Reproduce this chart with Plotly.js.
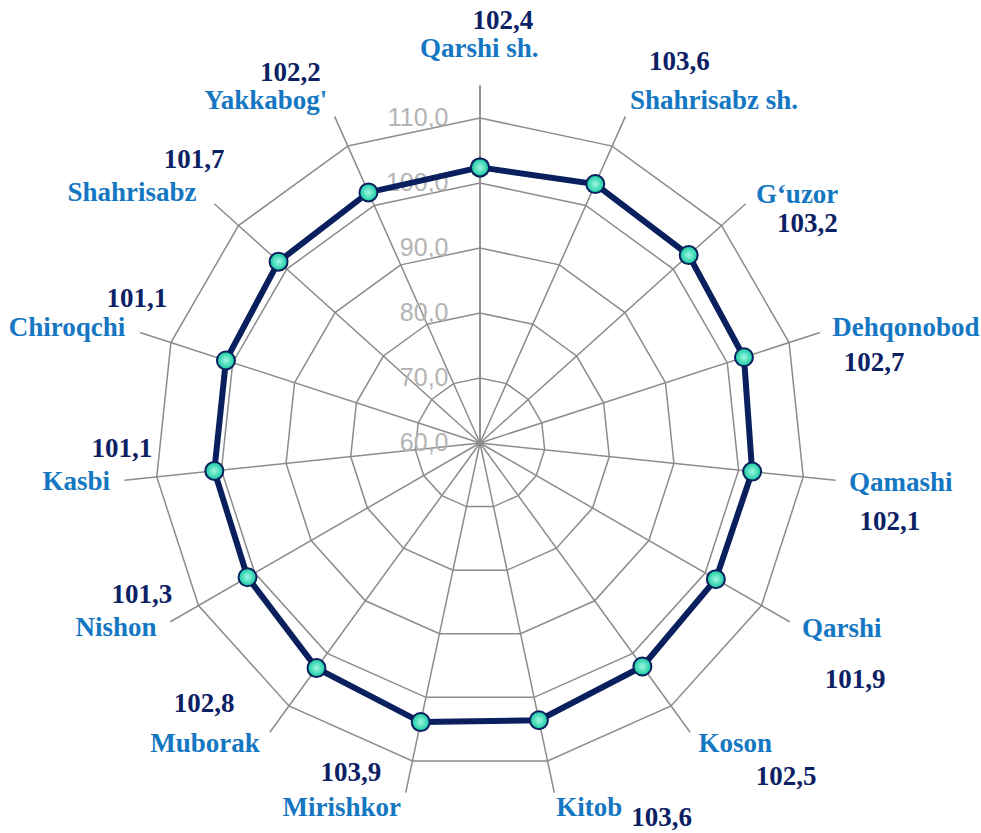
<!DOCTYPE html>
<html>
<head>
<meta charset="utf-8">
<script src="https://cdn.plot.ly/plotly-3.0.1.min.js"></script>
<style>html,body{margin:0;padding:0;background:#fff;}#chart{width:981px;height:833px;}</style>
</head>
<body>
<div id="chart"></div>
<script>
// ---- data ----
const categories = ["Qarshi sh.", "Shahrisabz sh.", "G‘uzor", "Dehqonobod", "Qamashi", "Qarshi", "Koson", "Kitob", "Mirishkor", "Muborak", "Nishon", "Kasbi", "Chiroqchi", "Shahrisabz", "Yakkabog'"];
const values = [102.4, 103.6, 103.2, 102.7, 102.1, 101.9, 102.5, 103.6, 103.9, 102.8, 101.3, 101.1, 101.1, 101.7, 102.2];
const radialTicks = [60, 70, 80, 90, 100, 110];

// ---- label placement (radius on the value scale, angular offset from the spoke in degrees) ----
const nameR      = [120.7, 123.9, 122.0, 127.9, 125.0, 122.5, 120.6, 118.5, 119.9, 122.6, 122.8, 122.4, 126.0, 126.0, 122.2];
const nameDTheta = [-0.1, 10.3, 3.9, 2.8, -0.7, -2.9, -4.4, -4.7, 8.8, 6.5, 3.1, 0.6, -2.3, -6.2, -8.0];
const valueR      = [125.2, 126.2, 120.7, 121.9, 124.2, 128.2, 129.6, 124.0, 114.4, 118.3, 117.0, 115.1, 117.3, 122.0, 124.0];
const valueDTheta = [3.1, 3.6, 8.1, 6.4, 4.8, 2.2, -6.6, -13.9, 9.4, 10.7, 5.9, 5.2, 4.9, 2.8, -3.1];

// ---- geometry / style ----
const W = 981, H = 833;
const CX = 480, CY = 443, RADIUS = 357.5;
const R_MIN = 60, R_MAX = 115;
const PX = RADIUS / (R_MAX - R_MIN);       // pixels per value unit
const TEXT_DROP = 2 / PX;                  // small vertical nudge for text baseline

const BLUE = '#1577c2';
const NAVY = '#0c2164';
const GRID = '#8c8c8c';
const LABEL_FONT = 'Liberation Serif, Times New Roman, serif';
const fmt = v => v.toFixed(1).replace('.', ',');
const step = 360 / categories.length;
const toXY = (r, deg) => {
  const a = deg * Math.PI / 180, d = r - R_MIN;
  return [d * Math.sin(a), d * Math.cos(a) - TEXT_DROP];
};

const mainTrace = {
  type: 'scatterpolar',
  r: values.concat([values[0]]),
  theta: categories.concat([categories[0]]),
  mode: 'lines+markers',
  line: {color: '#0a1f5e', width: 6},
  marker: {
    size: 18,
    color: '#12c9a0',
    gradient: {type: 'radial', color: '#a0f8e2'},
    line: {color: '#0a1f5e', width: 2}
  },
  hoverinfo: 'skip'
};

const namePts = categories.map((c, i) => toXY(nameR[i], i * step + nameDTheta[i]));
const valuePts = values.map((v, i) => toXY(valueR[i], i * step + valueDTheta[i]));

const nameTrace = {
  type: 'scatter', xaxis: 'x', yaxis: 'y',
  x: namePts.map(p => p[0]), y: namePts.map(p => p[1]),
  mode: 'text', text: categories, textposition: 'middle center',
  textfont: {family: LABEL_FONT, size: 27, color: BLUE, weight: 'bold'},
  cliponaxis: false, hoverinfo: 'skip'
};
const valueTrace = {
  type: 'scatter', xaxis: 'x', yaxis: 'y',
  x: valuePts.map(p => p[0]), y: valuePts.map(p => p[1]),
  mode: 'text', text: values.map(fmt), textposition: 'middle center',
  textfont: {family: LABEL_FONT, size: 27, color: NAVY, weight: 'bold'},
  cliponaxis: false, hoverinfo: 'skip'
};

const hiddenCart = {visible: false, fixedrange: true};

const layout = {
  width: W, height: H,
  margin: {l: 0, r: 0, t: 0, b: 0},
  paper_bgcolor: '#fff',
  plot_bgcolor: 'rgba(0,0,0,0)',
  showlegend: false,
  xaxis: Object.assign({domain: [0, 1], range: [-CX / PX, (W - CX) / PX]}, hiddenCart),
  yaxis: Object.assign({domain: [0, 1], range: [-(H - CY) / PX, CY / PX]}, hiddenCart),
  polar: {
    bgcolor: 'rgba(0,0,0,0)',
    gridshape: 'linear',
    domain: {
      x: [(CX - RADIUS) / W, (CX + RADIUS) / W],
      y: [(H - CY - RADIUS) / H, (H - CY + RADIUS) / H]
    },
    radialaxis: {
      range: [R_MIN, R_MAX],
      tickvals: radialTicks,
      ticktext: radialTicks.map(fmt),
      angle: 90,
      tickangle: 90,
      side: 'counterclockwise',
      showline: true,
      linecolor: GRID,
      linewidth: 1.5,
      gridcolor: GRID,
      gridwidth: 1.5,
      ticks: 'outside',
      ticklen: 22,
      tickcolor: 'rgba(0,0,0,0)',
      layer: 'below traces',
      tickfont: {family: 'Liberation Sans, Arial, sans-serif', size: 25, color: '#b4b4b4'}
    },
    angularaxis: {
      type: 'category',
      categoryarray: categories,
      rotation: 90,
      direction: 'clockwise',
      showline: false,
      showticklabels: false,
      gridcolor: GRID,
      gridwidth: 1.5,
      ticks: '',
      layer: 'below traces'
    }
  }
};

Plotly.newPlot('chart', [mainTrace, nameTrace, valueTrace], layout, {displayModeBar: false, staticPlot: true});
</script>
</body>
</html>
